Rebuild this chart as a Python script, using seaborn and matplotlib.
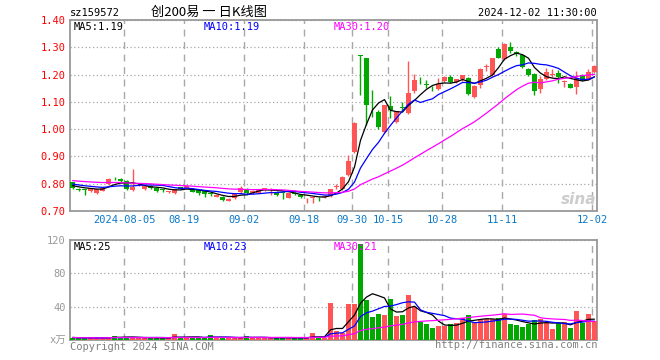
import numpy as np
import pandas as pd
import seaborn as sns
import matplotlib
matplotlib.use('Agg')
import matplotlib.pyplot as plt

# ---- data --------------------------------------------------------------------
dates = ['2024-08-05', '08-19', '09-02', '09-18', '09-30', '10-15', '10-28', '11-11', '12-02']
date_idx = [9, 19, 29, 39, 47, 53, 62, 72, 87]

# closes of the 29 sessions before the first drawn candle (only feed the MAs)
prior_close = [0.830, 0.826, 0.822, 0.818, 0.815, 0.812, 0.816, 0.820, 0.823, 0.819,
               0.815, 0.812, 0.814, 0.818, 0.816, 0.813, 0.810, 0.815, 0.819, 0.817,
               0.810, 0.807, 0.804, 0.802, 0.801, 0.798, 0.796, 0.794, 0.791]

open_ = [0.805, 0.779, 0.778, 0.774, 0.767, 0.775, 0.799, 0.821, 0.817, 0.810,
         0.777, 0.795, 0.780, 0.791, 0.783, 0.779, 0.769, 0.765, 0.787, 0.786,
         0.781, 0.777, 0.774, 0.766, 0.752, 0.752, 0.738, 0.746, 0.768, 0.777,
         0.765, 0.767, 0.782, 0.780, 0.771, 0.769, 0.749, 0.767, 0.758, 0.743,
         0.749, 0.751, 0.750, 0.755, 0.788, 0.780, 0.832, 0.915, 1.272, 1.259,
         1.090, 1.063, 0.990, 1.084, 1.027, 1.080, 1.060, 1.139, 1.178, 1.165,
         1.150, 1.146, 1.176, 1.191, 1.173, 1.182, 1.189, 1.116, 1.163, 1.228,
         1.198, 1.293, 1.258, 1.302, 1.281, 1.271, 1.219, 1.202, 1.146, 1.183,
         1.200, 1.207, 1.172, 1.165, 1.155, 1.200, 1.182, 1.208]
high = [0.808, 0.784, 0.780, 0.786, 0.781, 0.788, 0.820, 0.826, 0.821, 0.812,
        0.855, 0.800, 0.795, 0.794, 0.785, 0.781, 0.775, 0.782, 0.789, 0.792,
        0.783, 0.779, 0.776, 0.770, 0.760, 0.754, 0.746, 0.764, 0.792, 0.783,
        0.776, 0.782, 0.786, 0.784, 0.774, 0.771, 0.767, 0.770, 0.760, 0.748,
        0.753, 0.752, 0.758, 0.781, 0.800, 0.828, 0.905, 1.025, 1.272, 1.259,
        1.143, 1.070, 1.088, 1.121, 1.068, 1.100, 1.249, 1.203, 1.192, 1.180,
        1.158, 1.186, 1.193, 1.199, 1.185, 1.200, 1.192, 1.160, 1.224, 1.240,
        1.262, 1.300, 1.315, 1.318, 1.288, 1.274, 1.225, 1.205, 1.196, 1.223,
        1.222, 1.215, 1.180, 1.168, 1.213, 1.203, 1.220, 1.235]
low = [0.782, 0.772, 0.757, 0.771, 0.764, 0.772, 0.797, 0.815, 0.805, 0.776,
       0.775, 0.792, 0.777, 0.780, 0.770, 0.770, 0.766, 0.762, 0.780, 0.784,
       0.768, 0.760, 0.750, 0.755, 0.750, 0.737, 0.736, 0.744, 0.766, 0.760,
       0.763, 0.765, 0.775, 0.760, 0.755, 0.745, 0.747, 0.760, 0.748, 0.728,
       0.728, 0.737, 0.748, 0.750, 0.782, 0.778, 0.830, 0.912, 1.124, 1.015,
       1.045, 1.000, 0.985, 1.040, 1.022, 1.065, 1.057, 1.132, 1.164, 1.150,
       1.140, 1.143, 1.172, 1.170, 1.170, 1.178, 1.126, 1.113, 1.150, 1.214,
       1.196, 1.260, 1.255, 1.280, 1.268, 1.225, 1.196, 1.126, 1.133, 1.181,
       1.191, 1.170, 1.155, 1.150, 1.130, 1.178, 1.180, 1.205]
close = [0.786, 0.777, 0.777, 0.783, 0.779, 0.785, 0.817, 0.820, 0.810, 0.781,
         0.789, 0.797, 0.792, 0.784, 0.774, 0.777, 0.773, 0.780, 0.782, 0.790,
         0.770, 0.765, 0.762, 0.761, 0.758, 0.741, 0.744, 0.762, 0.785, 0.765,
         0.774, 0.780, 0.784, 0.781, 0.757, 0.767, 0.765, 0.762, 0.752, 0.745,
         0.751, 0.750, 0.756, 0.779, 0.793, 0.826, 0.883, 1.024, 1.268, 1.090,
         1.087, 1.009, 1.088, 1.070, 1.067, 1.078, 1.133, 1.179, 1.176, 1.163,
         1.149, 1.167, 1.191, 1.173, 1.182, 1.198, 1.128, 1.157, 1.220, 1.229,
         1.259, 1.262, 1.312, 1.285, 1.276, 1.229, 1.198, 1.141, 1.183, 1.210,
         1.202, 1.190, 1.175, 1.152, 1.186, 1.180, 1.208, 1.232]
# volume, 万 shares
volume = [3.0, 2.5, 2.5, 2.5, 2.0, 2.5, 4.0, 4.5, 3.0, 3.5,
          3.0, 2.5, 2.5, 2.5, 2.5, 2.0, 2.5, 7.0, 3.0, 3.0,
          3.0, 2.5, 3.0, 5.5, 2.5, 3.0, 2.0, 2.5, 3.5, 4.5,
          2.5, 2.5, 2.5, 2.5, 3.0, 3.0, 2.5, 2.0, 2.5, 3.0,
          8.0, 3.0, 2.5, 44.8, 10.8, 8.0, 43.2, 43.2, 115.2, 48.0,
          28.0, 31.2, 30.0, 49.2, 29.2, 30.0, 54.0, 40.0, 22.0, 19.2,
          14.8, 17.2, 17.2, 19.2, 20.8, 26.0, 30.0, 22.0, 24.8, 24.8,
          24.8, 26.8, 30.8, 19.2, 18.0, 16.0, 18.8, 24.0, 24.8, 20.8,
          13.2, 20.0, 22.0, 15.0, 35.0, 21.0, 31.0, 23.0]

price_ticks = [0.70, 0.80, 0.90, 1.00, 1.10, 1.20, 1.30, 1.40]
vol_ticks = [0, 40, 80, 120]
vol_tick_labels = ['x万', '40', '80', '120']
price_ma_text = ['MA5:1.19', 'MA10:1.19', 'MA30:1.20']
vol_ma_text = ['MA5:25', 'MA10:23', 'MA30:21']

# ---- frame ---------------------------------------------------------------
n = len(close)
df = pd.DataFrame({'idx': np.arange(n), 'open': open_, 'high': high,
                   'low': low, 'close': close, 'vol': volume})
full_close = pd.Series(prior_close + close)
for w in (5, 10, 30):
    df['ma%d' % w] = full_close.rolling(w).mean().iloc[-n:].to_numpy()
    df['vma%d' % w] = df['vol'].rolling(w, min_periods=1).mean()
df['dir'] = np.where(df['close'] >= df['open'], 'up', 'down')

UP, DOWN = '#ff5555', '#00a800'
MA_COLORS = ['black', '#0000ff', '#ff00ff']
GRID = '#a8a8a8'
BORDER = '#999999'

sns.set_theme(style='white')
plt.rcParams['font.family'] = ['DejaVu Sans Mono', 'Noto Sans CJK SC']

W, H = 660, 360
fig = plt.figure(figsize=(W / 100, H / 100), dpi=100)
ax = fig.add_axes([70 / W, 1 - 211 / H, 527 / W, 191 / H])
axv = fig.add_axes([70 / W, 1 - 340 / H, 527 / W, 100 / H])

# ---- candles -------------------------------------------------------------
colors = np.where(df['dir'] == 'up', UP, DOWN)
ax.vlines(df['idx'], df['low'], df['high'], colors=colors, lw=1, zorder=3)
body_lo = df[['open', 'close']].min(axis=1)
body_h = (df['close'] - df['open']).abs().clip(lower=0.002)
ax.bar(df['idx'], body_h, bottom=body_lo, width=0.78, color=colors, lw=0, zorder=3)

for w, c in zip((5, 10, 30), MA_COLORS):
    sns.lineplot(data=df, x='idx', y='ma%d' % w, color=c, lw=0.9, ax=ax, zorder=4)

# ---- volume --------------------------------------------------------------
sns.barplot(data=df, x='idx', y='vol', hue='dir', palette={'up': UP, 'down': DOWN},
            native_scale=True, width=0.85, dodge=False, legend=False, ax=axv,
            saturation=1, linewidth=0, zorder=3)
for w, c in zip((5, 10, 30), MA_COLORS):
    sns.lineplot(data=df, x='idx', y='vma%d' % w, color=c, lw=0.9, ax=axv, zorder=4)

# ---- axes styling ----------------------------------------------------------
grid_x = [i - 0.35 for i in date_idx]
for a in (ax, axv):
    a.set_xlim(-0.42, n - 0.58)
    a.set_xticks(grid_x)
    a.set_xlabel('')
    a.set_ylabel('')
    a.tick_params(length=0, pad=3)
    a.xaxis.grid(True, color=GRID, ls=(0, (5, 4)), lw=1)
    a.yaxis.grid(True, color=GRID, ls=(0, (1, 2)), lw=0.9)
    a.set_axisbelow(True)
    for s in a.spines.values():
        s.set_color(BORDER)
        s.set_linewidth(1.3)
        s.set_visible(True)

ax.set_ylim(price_ticks[0], price_ticks[-1])
ax.set_yticks(price_ticks)
ax.set_yticklabels(['%.2f' % t for t in price_ticks], color='red', fontsize=7.5)
ax.set_xticklabels(dates, color='#0a78c8', fontsize=7.5)

axv.set_ylim(vol_ticks[0], vol_ticks[-1])
axv.set_yticks(vol_ticks)
axv.set_yticklabels(vol_tick_labels, color='#999999', fontsize=7.5)
axv.set_xticklabels([])

# ---- texts -----------------------------------------------------------------
def put(x, y, s, **kw):
    fig.text(x / W, 1 - y / H, s, va='center', **kw)

put(70, 13, 'sz159572', fontsize=7.5, color='black')
put(209, 12, '创200易 一 日K线图', fontsize=9.5, color='black', ha='center',
    family=['Noto Sans CJK SC', 'DejaVu Sans'])
put(597, 13, '2024-12-02 11:30:00', fontsize=7.5, color='black', ha='right')

for x, s, c in zip((74, 204, 334), price_ma_text, MA_COLORS):
    put(x, 27, s, fontsize=7.5, color=c)
for x, s, c in zip((74, 204, 334), vol_ma_text, MA_COLORS):
    put(x, 247, s, fontsize=7.5, color=c)

put(70, 347, 'Copyright 2024 SINA.COM', fontsize=7.5, color='#808080')
put(597, 345, 'http://finance.sina.com.cn', fontsize=7.5, color='#808080', ha='right')
put(596, 199, 'sina', fontsize=11, color='#cccccc', ha='right', style='italic',
    weight='bold', family='DejaVu Sans')

fig.savefig('out.png', dpi=100)
